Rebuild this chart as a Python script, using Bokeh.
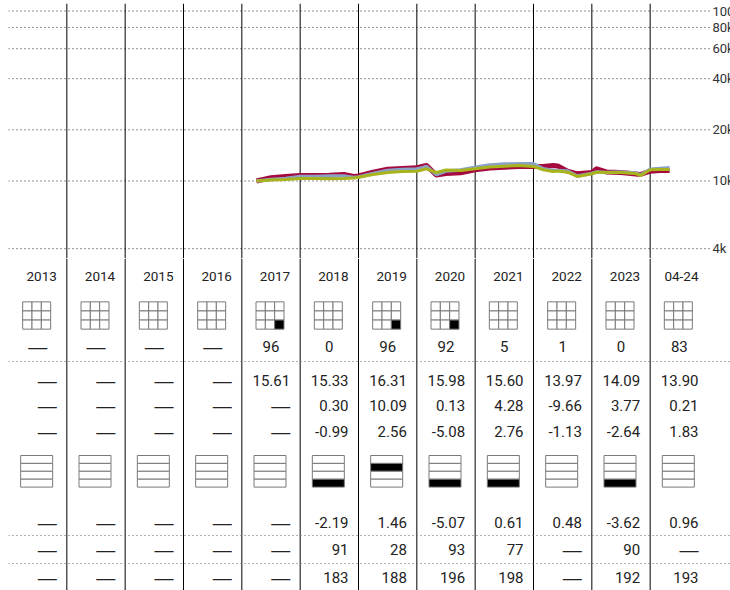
from bokeh.plotting import figure
from bokeh.layouts import column
from bokeh.models import Range1d, FixedTicker, NumeralTickFormatter
from bokeh.embed import file_html
from bokeh.resources import INLINE

# ---------------- data ----------------
years = ["2013", "2014", "2015", "2016", "2017", "2018", "2019", "2020",
         "2021", "2022", "2023", "04-24"]

growth_dates = ["2017-04", "2017-07", "2017-10", "2018-01", "2018-04", "2018-07",
                "2018-10", "2018-12", "2019-01", "2019-04", "2019-07", "2019-10",
                "2020-01", "2020-02", "2020-03", "2020-05", "2020-07", "2020-10",
                "2021-01", "2021-04", "2021-07", "2021-10", "2022-01", "2022-03",
                "2022-05", "2022-06", "2022-08", "2022-10", "2023-01", "2023-02",
                "2023-04", "2023-07", "2023-10", "2023-11", "2024-01", "2024-03",
                "2024-05"]
fund_growth = [10000, 10443, 10630, 10774, 10770, 10820,
               10920, 10630, 10700, 11270, 11720, 11845,
               11957, 12170, 12336, 10847, 11070, 11175,
               11640, 11926, 12056, 12170, 12170, 12170,
               12336, 12250, 11420, 11025, 11220, 11797,
               11297, 11220, 10995, 10920, 11420, 11530,
               11530]
category_growth = [10000, 10205, 10345, 10630, 10630, 10700,
                   10700, 10490, 10557, 11070, 11530, 11680,
                   11765, 11950, 12170, 10920, 11451, 11600,
                   12056, 12420, 12590, 12620, 12620, 11797,
                   11530, 11530, 11451, 10700, 11070, 11297,
                   11220, 11297, 11145, 10850, 11720, 11845,
                   11957]
index_growth = [10000, 10136, 10205, 10345, 10345, 10300,
                10345, 10415, 10530, 10920, 11220, 11370,
                11420, 11600, 11797, 11220, 11607, 11530,
                11797, 12088, 12220, 12336, 12170, 11640,
                11370, 11451, 11270, 10630, 11025, 11270,
                11220, 11220, 11070, 10774, 11640, 11680,
                11680]

y_ticks = [4000, 10000, 20000, 40000, 60000, 80000, 100000]

equity_style = [0, 0, 0, 0, 9, 0, 9, 9, 0, 0, 0, 0]          # 0 = no box cell filled
pct_rank = [None, None, None, None, 96, 0, 96, 92, 5, 1, 0, 83]
nav = [None, None, None, None, 15.61, 15.33, 16.31, 15.98, 15.60, 13.97, 14.09, 13.90]
total_return = [None, None, None, None, None, 0.30, 10.09, 0.13, 4.28, -9.66, 3.77, 0.21]
plus_minus_cat = [None, None, None, None, None, -0.99, 2.56, -5.08, 2.76, -1.13, -2.64, 1.83]
income_style = [0, 0, 0, 0, 0, 4, 2, 4, 4, 0, 4, 0]          # row filled (1 = top)
plus_minus_idx = [None, None, None, None, None, -2.19, 1.46, -5.07, 0.61, 0.48, -3.62, 0.96]
rank_in_cat = [None, None, None, None, None, 91, 28, 93, 77, None, 90, None]
funds_in_cat = [None, None, None, None, None, 183, 188, 196, 198, None, 192, 193]

# ---------------- styles ----------------
FONT = "Roboto"
DASH_FONT = "Liberation Sans"
RED, BLUE, YELLOW = "#a50a3e", "#8aa3c4", "#a9b41c"
DASH = "\u2014"
n = len(years)
FRAME_W = 722
COL_PX = 700 / n
x_end = n * FRAME_W / 700.0
Y_MIN, Y_MAX = 3500, 110700
CHART_H = 255
TABLE_H = 332


def date_x(s):
    yy, mm = s.split("-")
    return int(yy) - int(years[0]) + (int(mm) - 1) / 12.0


seps = list(range(1, n))

# ---------------- growth chart ----------------
p1 = figure(width=FRAME_W, height=CHART_H, x_range=Range1d(0, x_end),
            y_range=Range1d(Y_MIN, Y_MAX), y_axis_type="log",
            y_axis_location="right", x_axis_location=None,
            output_backend="svg", toolbar_location=None, min_border=0,
            outline_line_color=None)
p1.xgrid.visible = False
p1.ygrid.visible = False
ax = p1.yaxis[0]
ax.fixed_location = n
ax.ticker = FixedTicker(ticks=y_ticks)
ax.formatter = NumeralTickFormatter(format="0a")
ax.axis_line_color = None
ax.major_tick_out = 0
ax.major_tick_in = 0
ax.minor_tick_out = 0
ax.minor_tick_in = 0
ax.major_label_standoff = 4
ax.major_label_text_font = FONT
ax.major_label_text_font_size = "13px"
ax.major_label_text_color = "#333333"

p1.segment(x0=[0] * len(y_ticks), x1=[n + 0.04] * len(y_ticks), y0=y_ticks, y1=y_ticks,
           line_color="#222222", line_dash="1 3", line_width=1)
p1.segment(x0=seps, x1=seps, y0=[Y_MIN] * len(seps), y1=[Y_MAX] * len(seps),
           line_color="black", line_width=1)

gx = [date_x(d) for d in growth_dates]
p1.line(gx, fund_growth, line_color=RED, line_width=5, line_join="round")
p1.line(gx, category_growth, line_color=BLUE, line_width=3.5, line_join="round")
p1.line(gx, index_growth, line_color=YELLOW, line_width=3, line_join="round")

# ---------------- table ----------------
p2 = figure(width=FRAME_W, height=TABLE_H, x_range=p1.x_range,
            y_range=Range1d(TABLE_H, 0), x_axis_location=None, y_axis_location=None,
            output_backend="svg", toolbar_location=None, min_border=0,
            outline_line_color=None)
p2.xgrid.visible = False
p2.ygrid.visible = False

p2.segment(x0=seps, x1=seps, y0=[0] * len(seps), y1=[TABLE_H] * len(seps),
           line_color="black", line_width=1)

dotted_rows = [103, 277, 305]
p2.segment(x0=[0] * 3, x1=[x_end] * 3, y0=dotted_rows, y1=dotted_rows,
           line_color="#666666", line_dash="1 3", line_width=1)

right_x = [k + 1 - 10 / COL_PX for k in range(n)]
center_x = [k + 0.5 for k in range(n)]


def fmt(v, dec):
    if v is None:
        return DASH
    return f"{v:.{dec}f}"


def text_row(xs, ypos, labels, size="15px", align="right"):
    sizes = ["19px" if t == DASH else size for t in labels]
    fonts = [DASH_FONT if t == DASH else FONT for t in labels]
    p2.text(x=xs, y=[ypos] * len(xs), text=labels, text_align=align,
            text_baseline="middle", text_font=fonts,
            text_font_size=sizes, text_color="#222222")


text_row(right_x, 18, years, size="13.5px")
text_row(center_x, 88, [fmt(v, 0) for v in pct_rank], align="center")
text_row(right_x, 122, [fmt(v, 2) for v in nav])
text_row(right_x, 147, [fmt(v, 2) for v in total_return])
text_row(right_x, 173, [fmt(v, 2) for v in plus_minus_cat])
text_row(right_x, 264, [fmt(v, 2) for v in plus_minus_idx])
text_row(right_x, 291, [fmt(v, 0) for v in rank_in_cat])
text_row(right_x, 319, [fmt(v, 0) for v in funds_in_cat])

# equity style box (3 x 3)
cw = 9.33 / COL_PX
ch = 9.1
ex, ey, ef = [], [], []
for k in range(n):
    for i in range(9):
        r, c = divmod(i, 3)
        ex.append(k + 0.5 - 1 / COL_PX + (c - 1) * cw)
        ey.append(57 + (r - 1) * ch)
        ef.append("black" if equity_style[k] == i + 1 else "white")
p2.rect(x=ex, y=ey, width=cw, height=ch, fill_color=ef, line_color="#7a7a7a", line_width=1)

# income style box (4 rows)
iw = 32 / COL_PX
ih = 7.9
ix, iy, ifl = [], [], []
for k in range(n):
    for r in range(4):
        ix.append(k + 0.5 - 1 / COL_PX)
        iy.append(197 + ih / 2 + r * ih)
        ifl.append("black" if income_style[k] == r + 1 else "white")
p2.rect(x=ix, y=iy, width=iw, height=ih, fill_color=ifl, line_color="#7a7a7a", line_width=1)

layout = column(p1, p2, margin=(3, 0, 0, 8))
open("out.html", "w").write(file_html(layout, INLINE))
